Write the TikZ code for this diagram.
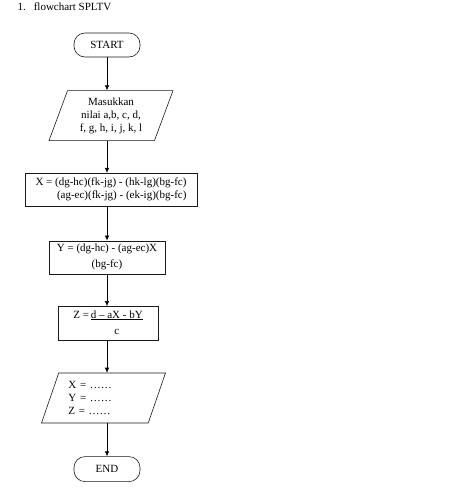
\documentclass[tikz,border=0pt]{standalone}
\usepackage{fontspec}
\setmainfont{Liberation Serif}
\usetikzlibrary{arrows.meta,positioning,shapes.geometric}
\newcommand{\fsz}{\fontsize{11pt}{13pt}\selectfont}

\begin{document}
\begin{tikzpicture}[x=1pt,y=-1pt,node distance=33pt,
  term/.style={draw=black!90,line width=0.6pt,rounded corners=11pt,minimum width=66pt,minimum height=24pt,font=\fsz},
  io/.style={trapezium,trapezium left angle=64,trapezium right angle=116,trapezium stretches body,draw=black!90,line width=0.6pt,minimum width=124pt,minimum height=50pt,inner sep=1pt,font=\fsz},
  proc/.style={draw=black!90,line width=0.6pt,minimum height=33pt,inner sep=2pt,font=\fsz},
  arr/.style={-{Latex[length=5pt,width=4.5pt]},line width=0.6pt}]
\useasboundingbox (0,0) rectangle (469,493);
\node[anchor=base west,font=\fsz] (title) at (14,10) {1.\hspace{8pt}flowchart SPLTV};
\node[term] (start) at (107,45) {START};
\node[io,align=center,below=of start,xshift=4pt] (in) {Masukkan\\nilai a,b, c, d,\\f, g, h, i, j, k, l};
\node[proc,minimum width=172pt,align=right,below=32pt of in] (bx) {X = (dg-hc)(fk-jg) - (hk-lg)(bg-fc)\\(ag-ec)(fk-jg) - (ek-ig)(bg-fc)};
\node[proc,minimum width=116pt,align=center,below=34pt of bx,xshift=-4pt] (by) {Y = (dg-hc) - (ag-ec)X\\[3pt](bg-fc)};
\node[proc,minimum width=100pt,minimum height=34pt,below=32pt of by,xshift=1pt] (bz) {\begin{tabular}{@{}r@{\,}c@{}}Z = & \underline{d – aX - bY}\\[3pt] & c\end{tabular}};
\node[io,text width=70pt,align=left,below=32pt of bz,xshift=-4.5pt] (out) {X = ……\\Y = ……\\Z = ……};
\node[term,minimum height=25pt,below=of out,xshift=3.5pt] (end) {END};
\draw[arr] (start) -- (start |- in.north);
\draw[arr] (in.south -| start) -- (bx.north -| start);
\draw[arr] (bx.south -| start) -- (by.north -| start);
\draw[arr] (by.south -| start) -- (bz.north -| start);
\draw[arr] (bz.south -| start) -- (out.north -| start);
\draw[arr] (out.south -| start) -- (end);
\end{tikzpicture}
\end{document}
